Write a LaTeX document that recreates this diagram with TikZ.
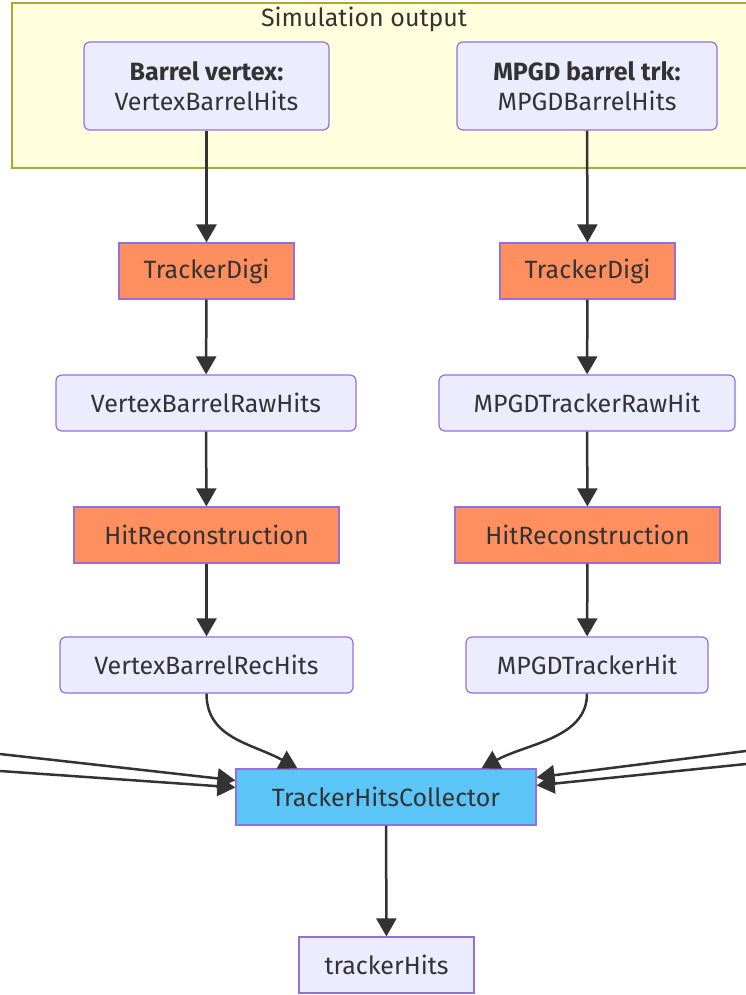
\documentclass[tikz,border=0pt]{standalone}
\usepackage{fontspec}
\setmainfont{Fira Sans}
\usetikzlibrary{arrows.meta,calc}
\definecolor{lav}{HTML}{ECECFF}
\definecolor{lavb}{HTML}{9370DB}
\definecolor{orng}{HTML}{FF8F5F}
\definecolor{blu}{HTML}{5BC5F8}
\definecolor{band}{HTML}{FFFFDE}
\definecolor{bandb}{HTML}{AAAA33}
\definecolor{ink}{HTML}{333333}
\tikzset{
  base/.style={draw=lavb, line width=1.2pt, text=ink, font=\fontsize{25}{30}\selectfont, align=center, inner sep=0pt},
  data/.style={base, fill=lav, rounded corners=6pt},
  proc/.style={base, fill=orng},
  coll/.style={base, fill=blu},
  edge/.style={draw=ink, line width=2.5pt, -{Triangle[length=18pt,width=20pt]}},
}
\begin{document}
\begin{tikzpicture}[x=1pt,y=1pt]
\useasboundingbox (0,0) rectangle (746,-995);
\fill[white] (0,0) rectangle (746,-995);
% band
\draw[fill=band, draw=bandb, line width=1.5pt] (12,-3) rectangle (770,-168);
\node[text=ink, font=\fontsize{25}{30}\selectfont] (title) at (364,-19) {Simulation output};
% nodes
\node[data, minimum width=245pt, minimum height=88pt] (b1) at (206.5,-86) {\textbf{Barrel vertex:}\\VertexBarrelHits};
\node[data, minimum width=260pt, minimum height=88pt] (b2) at (587,-86) {\textbf{MPGD barrel trk:}\\MPGDBarrelHits};
\node[proc, minimum width=175pt, minimum height=56pt] (td1) at (206.5,-271) {TrackerDigi};
\node[proc, minimum width=175pt, minimum height=56pt] (td2) at (587.5,-271) {TrackerDigi};
\node[data, minimum width=300pt, minimum height=56pt] (raw1) at (206,-403) {VertexBarrelRawHits};
\node[data, minimum width=296pt, minimum height=56pt] (raw2) at (587,-403) {MPGDTrackerRawHit};
\node[proc, minimum width=265pt, minimum height=56pt] (hr1) at (206.5,-535) {HitReconstruction};
\node[proc, minimum width=265pt, minimum height=56pt] (hr2) at (587.5,-535) {HitReconstruction};
\node[data, minimum width=293pt, minimum height=56pt] (rec1) at (206.5,-665) {VertexBarrelRecHits};
\node[data, minimum width=242pt, minimum height=56pt] (rec2) at (587,-665) {MPGDTrackerHit};
\node[coll, minimum width=300pt, minimum height=56pt] (coll) at (386,-797) {TrackerHitsCollector};
\node[data, rounded corners=0pt, minimum width=175pt, minimum height=56pt] (th) at (386.5,-965) {trackerHits};
% edges
\draw[edge] (b1) -- (td1);
\draw[edge] (b2) -- (td2);
\draw[edge] (td1) -- (raw1);
\draw[edge] (td2) -- (raw2);
\draw[edge] (raw1) -- (hr1);
\draw[edge] (raw2) -- (hr2);
\draw[edge] (hr1) -- (rec1);
\draw[edge] (hr2) -- (rec2);
\coordinate (cin1) at ($(coll.north west)+(62,0)$);
\coordinate (cin2) at ($(coll.north east)+(-55,0)$);
\draw[edge] (rec1.south) .. controls +(0,-45) and +(-45,25) .. (cin1);
\draw[edge] (rec2.south) .. controls +(0,-45) and +(45,25) .. (cin2);
\coordinate (l1) at (0,-754);
\coordinate (l2) at (0,-771);
\coordinate (r1) at (746,-751);
\coordinate (r2) at (746,-764);
\coordinate (lt1) at ($(coll.north west)+(0,-12)$);
\coordinate (lt2) at ($(coll.north west)+(0,-19)$);
\coordinate (rt1) at ($(coll.north east)+(0,-9)$);
\coordinate (rt2) at ($(coll.north east)+(0,-17)$);
\draw[edge] (l1) -- (lt1);
\draw[edge] (l2) -- (lt2);
\draw[edge] (r1) -- (rt1);
\draw[edge] (r2) -- (rt2);
\draw[edge] (coll) -- (th);
\end{tikzpicture}
\end{document}
